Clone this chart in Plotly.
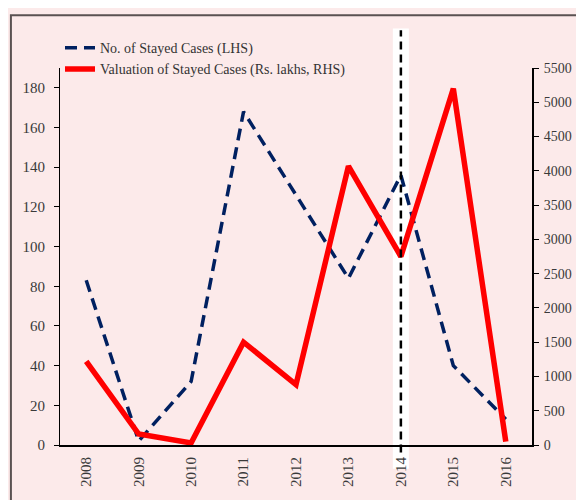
import plotly.graph_objects as go

years = ["2008", "2009", "2010", "2011", "2012", "2013", "2014", "2015", "2016"]
stayed_cases = [83, 2, 32, 168, 126, 84, 136, 40, 13]
stayed_value = [1220, 160, 30, 1500, 880, 4070, 2750, 5200, 50]
marker_year = "2014"

BG = "#fceaea"
FONT = dict(family="Liberation Serif, Times New Roman, serif", size=14, color="#333333")
TICKFONT = dict(family="Liberation Serif, Times New Roman, serif", size=15, color="#3a3a3a")

fig = go.Figure()

fig.add_trace(go.Scatter(
    x=years, y=stayed_cases,
    mode="lines",
    name="No. of Stayed Cases (LHS)",
    line=dict(color="#002060", width=3.5, dash="12px,7px"),
))

fig.add_trace(go.Scatter(
    x=years, y=stayed_value,
    mode="lines",
    name="Valuation of Stayed Cases (Rs. lakhs, RHS)",
    line=dict(color="#ff0000", width=5.5),
    yaxis="y2",
))

# position of the marker year on the paper (category axis, range -0.5..n-0.5)
n = len(years)
xm = (years.index(marker_year) + 0.5) / n

fig.add_shape(type="rect", xref="paper", yref="paper",
              x0=xm - 0.017, x1=xm + 0.017, y0=-0.063, y1=1.105,
              fillcolor="white", line=dict(width=0), layer="below")
fig.add_shape(type="line", xref="paper", yref="paper",
              x0=xm, x1=xm, y0=-0.02, y1=1.1,
              line=dict(color="black", width=2.5, dash="8px,5px"), layer="above")

# outer frame
fig.add_shape(type="rect", xref="paper", yref="paper",
              x0=-0.104, x1=1.3, y0=-0.4, y1=1.14,
              line=dict(color="#5a5252", width=2), fillcolor="rgba(0,0,0,0)")

# the page body adds an 8px offset, so the figure is 8px smaller than the window
fig.update_layout(
    width=576, height=492,
    paper_bgcolor=BG, plot_bgcolor=BG,
    font=FONT,
    margin=dict(l=52, r=52, t=60, b=55),
    showlegend=True,
    legend=dict(
        x=0.0, y=1.095, xanchor="left", yanchor="top",
        bgcolor="rgba(0,0,0,0)", font=dict(size=14),
        tracegroupgap=0, itemwidth=30,
    ),
    xaxis=dict(
        type="category", range=[-0.5, n - 0.5],
        tickangle=-90, showgrid=False, ticks="",
        showline=True, linecolor="black", linewidth=2,
        zeroline=False, tickfont=TICKFONT, ticklabelstandoff=4,
        automargin=False,
    ),
    yaxis=dict(
        range=[0, 190], tickvals=list(range(0, 181, 20)),
        showgrid=False, zeroline=False,
        showline=True, linecolor="black", linewidth=1,
        ticks="outside", ticklen=5, tickcolor="black",
        tickfont=TICKFONT, ticklabelstandoff=6, automargin=False,
    ),
    yaxis2=dict(
        range=[0, 5500], dtick=500, overlaying="y", side="right",
        showgrid=False, zeroline=False,
        showline=True, linecolor="black", linewidth=2,
        ticks="outside", ticklen=5, tickcolor="black",
        tickfont=dict(TICKFONT, size=14), ticklabelstandoff=2, automargin=False,
    ),
)

fig.write_html("out.html")
